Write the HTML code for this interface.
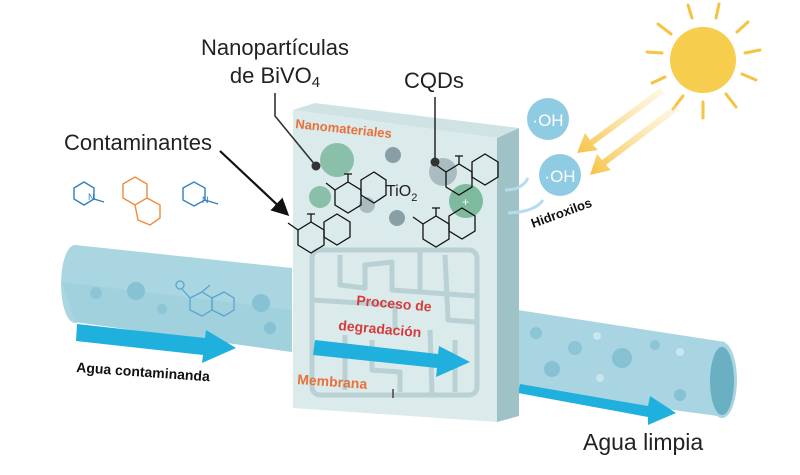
<!DOCTYPE html>
<html><head><meta charset="utf-8"><style>
html,body{margin:0;padding:0;background:#fff;}
svg{display:block;font-family:"Liberation Sans",sans-serif;}
</style></head><body>
<svg width="800" height="475" viewBox="0 0 800 475" xmlns="http://www.w3.org/2000/svg">
<defs>
<linearGradient id="ray" x1="1" y1="0" x2="0" y2="1"><stop offset="0" stop-color="#fbe6a8" stop-opacity="0.3"/><stop offset="1" stop-color="#f6c343"/></linearGradient>
<marker id="ah" markerWidth="8" markerHeight="8" refX="6" refY="4" orient="auto"><path d="M0,0 L8,4 L0,8 z" fill="#111"/></marker>
</defs>
<rect width="800" height="475" fill="#fff"/>

<!-- left pipe -->
<path d="M75,245 L292,268 L292,352 L75,322 Z" fill="#a9d6e0"/>
<ellipse cx="75" cy="284" rx="14" ry="39" fill="#a9d6e0"/>
<path d="M62,282 L292,310 L292,352 L75,322 Z" fill="#9bcdd9" opacity="0.6"/>
<circle cx="96" cy="293" r="6" fill="#8cc5d6"/><circle cx="136" cy="291" r="9" fill="#86c1d4"/>
<circle cx="162" cy="309" r="5" fill="#8cc5d6"/><circle cx="261" cy="303" r="9" fill="#86c1d4"/>
<circle cx="270" cy="328" r="6" fill="#86c1d4"/>
<g fill="none" stroke="#5aa4cf" stroke-width="1.3"><circle cx="180" cy="285" r="4"/><polygon points="190,298 202,292 212,298 212,310 202,316 190,310"/><polygon points="212,298 224,292 234,298 234,310 224,316 212,310"/><path d="M190,298 L182,289 M202,292 L210,285"/></g>
<path d="M77,324 L205,338 L206,330 L236,348 L202,363 L203,355 L76,341 Z" fill="#1fb0de"/>
<text x="76" y="372" font-size="14" font-weight="bold" fill="#111" transform="rotate(4 76 372)">Agua contaminanda</text>

<!-- right pipe -->
<path d="M505,308 L725,342 L725,417 L505,387 Z" fill="#a8d5e1"/>
<ellipse cx="505" cy="347" rx="14" ry="40" fill="#7ebfd3"/>
<ellipse cx="722" cy="380" rx="15" ry="38" fill="#a8d5e1"/>
<ellipse cx="722" cy="381" rx="12" ry="34" fill="#6aafc2"/>
<circle cx="536" cy="333" r="6" fill="#8cc5d6"/><circle cx="575" cy="348" r="7" fill="#8cc5d6"/><circle cx="622" cy="358" r="10" fill="#86c1d4"/>
<circle cx="552" cy="369" r="8" fill="#86c1d4"/><circle cx="655" cy="345" r="5" fill="#8cc5d6"/><circle cx="680" cy="352" r="4" fill="#c7e6ee"/>
<circle cx="600" cy="378" r="4" fill="#c7e6ee"/><circle cx="680" cy="395" r="6" fill="#86c1d4"/><circle cx="597" cy="336" r="4" fill="#c7e6ee"/>
<path d="M520,384 L648,406 L650,396 L676,413 L648,425 L648,417 L518,393 Z" fill="#1fb0de"/>
<text x="583" y="450" font-size="23" fill="#222">Agua limpia</text>

<!-- membrane -->
<path d="M497,138 L519,128 L519,416 L497,422 Z" fill="#9fc2c6"/>
<path d="M293,110 L315,103 L519,128 L497,138 Z" fill="#cfe3e4"/>
<path d="M293,110 L497,138 L497,422 L293,408 Z" fill="#dbeaeb"/>
<g fill="none" stroke="#b9d1d4" stroke-width="5" stroke-linejoin="round">
<rect x="312" y="250" width="165" height="145" rx="8"/>
<path d="M340,255 L340,285 L365,288 L365,265 L392,262 L392,290 L420,292 L420,250"/>
<path d="M312,300 L395,305 L395,330 M420,292 L475,296 M445,255 L448,320 L475,322"/>
<path d="M345,335 L345,390 M372,340 L372,370 L400,372 L400,392 M430,330 L432,395 M455,340 L455,392"/>
</g>
<text x="295" y="128" font-size="13" font-weight="bold" fill="#e8703a" transform="rotate(6 295 128)">Nanomateriales</text>
<circle cx="337" cy="160" r="17" fill="#7bb79d" opacity="0.85"/>
<circle cx="320" cy="197" r="11" fill="#7bb79d" opacity="0.85"/>
<circle cx="393" cy="155" r="8" fill="#8a9ea5"/>
<circle cx="397" cy="218" r="8" fill="#8a9ea5"/>
<circle cx="443" cy="172" r="14" fill="#a9bcc0"/>
<circle cx="466" cy="201" r="17" fill="#6db191" opacity="0.85"/>
<circle cx="367" cy="205" r="8" fill="#a9bcc0"/>
<text x="462" y="206" font-size="12" fill="#fff">+</text>
<text x="386" y="196" font-size="16" fill="#222">TiO<tspan font-size="11" dy="5">2</tspan></text>
<g fill="none" stroke="#111" stroke-width="1.3">
<polygon points="335,190 348,182 361,190 361,205 348,213 335,205"/><polygon points="361,180 374,172 386,180 386,195 374,203 361,195"/><path d="M335,190 L326,183 M348,182 L348,174 M344,174 L352,174"/>
<polygon points="298,230 311,222 324,230 324,245 311,253 298,245"/><polygon points="324,222 337,214 350,222 350,237 337,245 324,237"/><path d="M298,230 L288,223 M311,222 L311,214 M307,214 L315,214"/>
<polygon points="446,172 459,164 472,172 472,187 459,195 446,187"/><polygon points="472,162 485,154 498,162 498,177 485,185 472,177"/><path d="M446,172 L436,165 M459,164 L459,156 M455,156 L463,156"/>
<polygon points="423,224 436,216 449,224 449,239 436,247 423,239"/><polygon points="449,216 462,208 475,216 475,231 462,239 449,231"/><path d="M423,224 L413,217 M436,216 L436,208 M432,208 L440,208"/>
</g>
<text x="356" y="305" font-size="14" font-weight="bold" fill="#d63b3b" transform="rotate(5 356 305)">Proceso de</text>
<text x="338" y="330" font-size="14" font-weight="bold" fill="#d63b3b" transform="rotate(5 338 330)">degradación</text>
<path d="M315,340 L438,354 L439,346 L470,362 L436,377 L437,368 L313,355 Z" fill="#1fb0de"/>
<text x="297" y="384" font-size="14" font-weight="bold" fill="#e8703a" transform="rotate(4 297 384)">Membrana</text>
<line x1="393" y1="389" x2="393" y2="398" stroke="#444" stroke-width="1.5"/>

<!-- labels & leaders -->
<text x="275" y="55" font-size="22" fill="#222" text-anchor="middle">Nanopartículas</text>
<text x="275" y="83" font-size="22" fill="#222" text-anchor="middle">de BiVO<tspan font-size="15" dy="4">4</tspan></text>
<text x="404" y="88" font-size="22" fill="#222">CQDs</text>
<text x="64" y="150" font-size="22" fill="#222">Contaminantes</text>
<path d="M275,93 L275,116 L316,166" fill="none" stroke="#333" stroke-width="1.6"/><circle cx="316" cy="166" r="4.5" fill="#333"/>
<path d="M435,97 L435,160" stroke="#333" stroke-width="1.6"/><circle cx="435" cy="162" r="4.5" fill="#333"/>
<line x1="220" y1="151" x2="286" y2="213" stroke="#111" stroke-width="2.2" marker-end="url(#ah)"/>

<!-- small molecules -->
<g fill="none" stroke-width="1.4">
<polygon stroke="#2f7fc1" points="74,188 84,182 94,188 94,199 84,205 74,199"/><path stroke="#2f7fc1" d="M94,199 L104,202"/>
<text x="88" y="200" font-size="9" fill="#2f7fc1" stroke="none">N</text>
<polygon stroke="#f08a3a" points="123,184 135,177 147,184 147,198 135,205 123,198"/><path stroke="#f08a3a" d="M147,198 L160,205 L160,218 L150,225 L138,220 L135,205"/>
<polygon stroke="#2f7fc1" points="183,188 194,182 205,188 205,200 194,206 183,200"/><path stroke="#2f7fc1" d="M205,200 L218,204"/>
<text x="202" y="203" font-size="9" fill="#2f7fc1" stroke="none">N</text>
</g>

<!-- sun -->
<g stroke="#f6c343" stroke-width="3" stroke-linecap="round">
<line x1="688" y1="5" x2="692" y2="18"/><line x1="719" y1="4" x2="716" y2="18"/><line x1="748" y1="22" x2="737" y2="32"/>
<line x1="760" y1="50" x2="745" y2="53"/><line x1="756" y1="80" x2="742" y2="74"/><line x1="736" y1="107" x2="726" y2="94"/>
<line x1="703" y1="118" x2="703" y2="102"/><line x1="673" y1="109" x2="683" y2="96"/><line x1="652" y1="83" x2="665" y2="77"/>
<line x1="647" y1="52" x2="662" y2="53"/><line x1="658" y1="24" x2="671" y2="34"/>
</g>
<circle cx="703" cy="60" r="33" fill="#f6cd4c"/>
<path d="M660,88 L590,140 L585,133 L577,153 L598,150 L593,145 L664,93 Z" fill="url(#ray)"/>
<path d="M675,105 L602,160 L597,154 L590,175 L611,170 L606,165 L679,110 Z" fill="url(#ray)"/>
<circle cx="548" cy="119" r="21" fill="#8fcbe3"/><text x="548" y="126" font-size="17" fill="#fff" text-anchor="middle">·OH</text>
<circle cx="560" cy="175" r="21" fill="#8fcbe3"/><text x="560" y="182" font-size="17" fill="#fff" text-anchor="middle">·OH</text>
<g fill="none" stroke="#b5dcec" stroke-width="3"><path d="M528,178 Q522,190 505,190"/><path d="M543,200 Q535,212 508,213"/></g>
<text x="533" y="228" font-size="13" font-weight="bold" fill="#111" transform="rotate(-20 533 228)">Hidroxilos</text>
</svg>
</body></html>
